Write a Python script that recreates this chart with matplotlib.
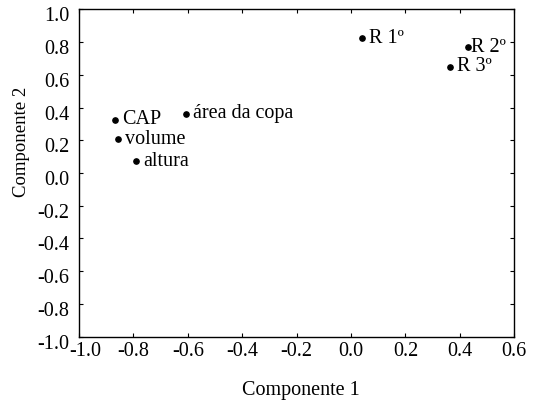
import numpy as np
import matplotlib.pyplot as plt
import matplotlib.transforms as mtransforms

# Data (loadings)
names = ["R 1º", "R 2º", "R 3º", "CAP", "área da copa", "volume", "altura"]
comp1 = [0.04, 0.43, 0.363, -0.868, -0.608, -0.855, -0.789]
comp2 = [0.823, 0.768, 0.648, 0.326, 0.362, 0.206, 0.073]
xticks = [-1.0, -0.8, -0.6, -0.4, -0.2, 0.0, 0.2, 0.4, 0.6]
yticks = [-1.0, -0.8, -0.6, -0.4, -0.2, 0.0, 0.2, 0.4, 0.6, 0.8, 1.0]

# Plot parameters
fontl = 14.5
plt.rcParams['font.family'] = ['Liberation Serif', 'DejaVu Serif']

fig, ax = plt.subplots(1, 1, figsize=(5.34, 4.07), dpi=100)
fig.subplots_adjust(left=0.148, right=0.963, top=0.977, bottom=0.173)

ax.plot(comp1, comp2, 'o', color='k', markersize=3.8)
for n, xx, yy in zip(names, comp1, comp2):
    dx = 2 if n == "R 2º" else 5
    ax.annotate(n, xy=(xx, yy), xytext=(dx, 0), textcoords='offset points',
                ha='left', va='center', fontsize=fontl)

ax.set_xlim(-1.0, 0.6)
ax.set_ylim(-1.0, 1.0)
ax.set_xticks(xticks)
ax.set_yticks(yticks)
ax.set_xticklabels(["%.1f" % v for v in xticks])
ax.set_yticklabels(["%.1f" % v for v in yticks])
ax.tick_params(axis='both', which='major', labelsize=fontl, direction='in',
               length=3, width=0.8, top=True, right=True)
ax.tick_params(axis='x', pad=4)
ax.tick_params(axis='y', pad=7)
# y labels sit a bit below their ticks in the original
shift = mtransforms.ScaledTranslation(0, -0.05, fig.dpi_scale_trans)
for lab in ax.get_yticklabels():
    lab.set_transform(lab.get_transform() + shift)
# first x label nudged right, clear of the y label
xl0 = ax.get_xticklabels()[0]
xl0.set_transform(xl0.get_transform() +
                  mtransforms.ScaledTranslation(0.06, 0, fig.dpi_scale_trans))
for s in ax.spines.values():
    s.set_linewidth(1.0)

ax.set_xlabel("Componente 1", fontsize=fontl, labelpad=14, x=0.51)
ax.set_ylabel("Componente 2", fontsize=13.5, labelpad=5, y=0.595)

fig.savefig('out.png', dpi=100)
plt.close(fig)
